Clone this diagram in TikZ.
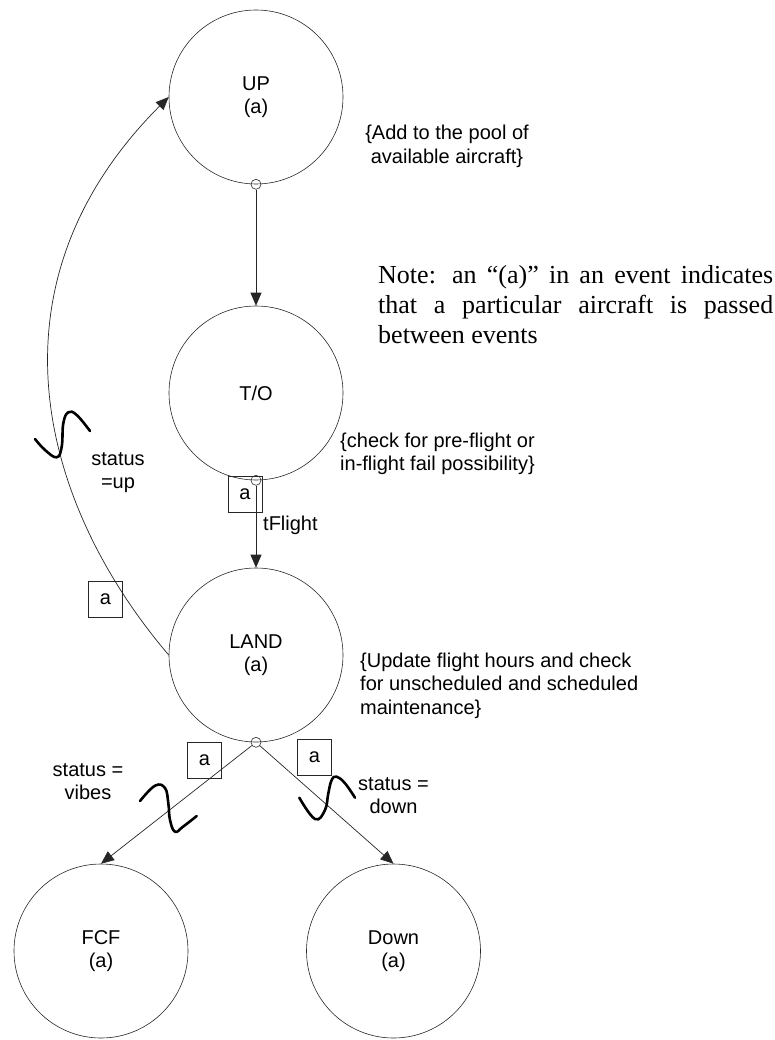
\documentclass[tikz,border=0pt]{standalone}
\usepackage{fontspec}
\setmainfont{Liberation Serif}
\newfontfamily\sansface{Liberation Sans}
\usetikzlibrary{arrows.meta}
\newcommand\evfont{\sansface\fontsize{20}{23.5}\selectfont}
\newcommand\notefont{\rmfamily\fontsize{26}{30}\selectfont}

\tikzset{
  event/.style={circle, draw=black!85, line width=0.6pt, minimum size=174pt,
    inner sep=0pt, align=center, font=\evfont},
  port/.style={circle, draw=black!85, line width=0.6pt, minimum size=10pt, inner sep=0pt},
  tag/.style={draw=black!85, line width=0.8pt, minimum width=34pt, minimum height=36pt,
    inner sep=0pt, font=\evfont},
  flow/.style={draw=black!85, line width=0.7pt, -{Triangle[length=13pt,width=11pt]}},
  cut/.style={line width=2.6pt, line cap=round, line join=round},
  remark/.style={font=\evfont, inner sep=0pt},
}

\begin{document}
\begin{tikzpicture}[x=1pt,y=-1pt]
\useasboundingbox (0,0) rectangle (775,1040);

% events
\node[event] (up)   at (256,97)    {UP\\(a)};
\node[event] (to)   at (256,393)   {T/O};
\node[event] (land) at (256,655)   {LAND\\(a)};
\node[event] (fcf)  at (101,951)   {FCF\\(a)};
\node[event] (down) at (393.5,951) {Down\\(a)};

% conditional-edge ports
\node[port] (upport)   at (up.south)   {};
\node[port] (toport)   at (to.south)   {};
\node[port] (landport) at (land.south) {};

% edges
\draw[flow] (upport.south) -- (to.north);
\draw[flow] (toport.south) -- (land.north);
\draw[flow] (landport) -- (fcf.north);
\draw[flow] (landport) -- (down.north);
\draw[flow] (land.west) .. controls (40,504) and (-19,285) .. (up.west);

% attribute boxes
\node[tag] (tagup)     at (105.5,599.5) {a};
\node[tag] (tagflight) at (245,494)     {a};
\node[tag] (tagvibes)  at (204.5,760)   {a};
\node[tag] (tagdown)   at (314.5,757)   {a};

% condition marks
\draw[cut] plot[smooth, tension=0.7] coordinates
  {(35,439) (45,450) (56.7,457.3) (61.7,446.7) (63.3,423.3) (68.3,412.3) (76.7,415) (90,431)};
\draw[cut] plot[smooth, tension=0.7] coordinates
  {(140,801) (155,785.7) (165,788) (168.3,803) (170,820) (175,831.7) (183,826.7) (196.7,816)};
\draw[cut] plot[smooth, tension=0.7] coordinates
  {(299.3,797.7) (315,819) (325,810) (328.3,793.3) (331.7,780) (336.7,776.7) (345,783.3) (355,797.7)};

% edge labels (multi-line nodes are placed by the baseline of their last line)
\node[remark, anchor=base west] (lblflight) at (263,530) {tFlight};
\node[remark, align=center, anchor=base] (lblup)    at (118,488.5)   {status\\=up};
\node[remark, align=center, anchor=base] (lblvibes) at (88,799.5)    {status =\\vibes};
\node[remark, align=center, anchor=base] (lbldown)  at (393.5,813.5) {status =\\down};

% event remarks
\node[remark, align=center, anchor=base] (addnote) at (447,163.5)
  {\{Add to the pool of\\available aircraft\}};
\node[remark, align=left, anchor=base west] (checknote) at (340,470.5)
  {\{check for pre-flight or\\in-flight fail possibility\}};
\node[remark, align=left, anchor=base west] (updnote) at (360,714)
  {\{Update flight hours and check\\for unscheduled and scheduled\\maintenance\}};

% legend
\node[font=\notefont, align=left, anchor=base west, inner sep=0pt] (legend) at (378,343)
  {\makebox[395pt][s]{Note: an “(a)” in an event indicates}\\
   \makebox[395pt][s]{that a particular aircraft is passed}\\
   between events};
\end{tikzpicture}
\end{document}
